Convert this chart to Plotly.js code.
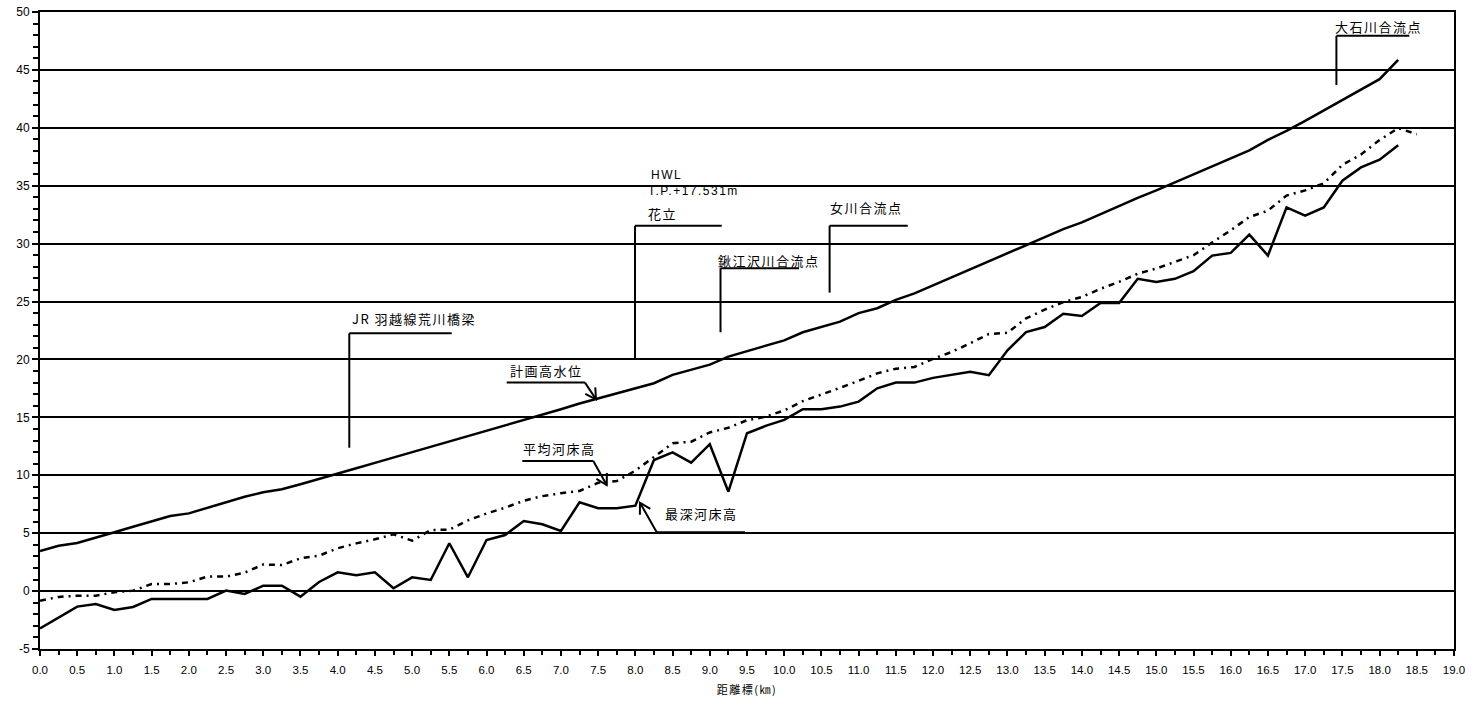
<!DOCTYPE html>
<html>
<head>
<meta charset="utf-8">
<script src="https://cdn.plot.ly/plotly-3.0.1.min.js"></script>
<style>
  html, body { margin: 0; padding: 0; background: #fff; }
  #chart { width: 1474px; height: 706px; }
  .annotation-text { letter-spacing: 1.5px; }
  .xtitle { letter-spacing: 1.5px; }
</style>
</head>
<body>
<div id="chart"></div>
<script>
// distance markers (km)
const distanceKm = [
  0.0, 0.25, 0.5, 0.75, 1.0, 1.25, 1.5, 1.75, 2.0, 2.25, 2.5, 2.75, 3.0, 3.25, 3.5, 3.75,
  4.0, 4.25, 4.5, 4.75, 5.0, 5.25, 5.5, 5.75, 6.0, 6.25, 6.5, 6.75, 7.0, 7.25, 7.5, 7.75,
  8.0, 8.25, 8.5, 8.75, 9.0, 9.25, 9.5, 9.75, 10.0, 10.25, 10.5, 10.75, 11.0, 11.25, 11.5, 11.75,
  12.0, 12.25, 12.5, 12.75, 13.0, 13.25, 13.5, 13.75, 14.0, 14.25, 14.5, 14.75, 15.0, 15.25, 15.5, 15.75,
  16.0, 16.25, 16.5, 16.75, 17.0, 17.25, 17.5, 17.75, 18.0, 18.25, 18.5
];

// 計画高水位 (HWL)
const planHighWater = [
  3.46, 3.92, 4.15, 4.59, 5.08, 5.55, 6.04, 6.48, 6.71, 7.17, 7.66, 8.15, 8.53, 8.79, 9.22, 9.70,
  10.15, 10.60, 11.07, 11.53, 12.00, 12.45, 12.93, 13.40, 13.87, 14.30, 14.80, 15.25, 15.70, 16.20, 16.65, 17.10,
  17.50, 17.95, 18.67, 19.10, 19.55, 20.25, 20.70, 21.15, 21.65, 22.35, 22.80, 23.27, 24.00, 24.42, 25.14, 25.70,
  26.40, 27.10, 27.80, 28.50, 29.20, 29.85, 30.55, 31.25, 31.84, 32.55, 33.25, 33.95, 34.60, 35.30, 36.00, 36.70,
  37.35, 38.05, 38.95, 39.73, 40.60, 41.50, 42.40, 43.35, 44.20, 45.86, null
];

// 平均河床高
const meanBed = [
  -0.84, -0.50, -0.40, -0.40, -0.10, 0.04, 0.61, 0.61, 0.76, 1.25, 1.25, 1.59, 2.30, 2.25, 2.83, 3.06,
  3.70, 4.12, 4.47, 4.90, 4.35, 5.27, 5.30, 6.10, 6.70, 7.20, 7.80, 8.20, 8.45, 8.65, 9.35, 9.50,
  10.40, 11.60, 12.76, 12.90, 13.70, 14.10, 14.75, 15.05, 15.60, 16.40, 16.95, 17.55, 18.15, 18.80, 19.20, 19.35,
  20.05, 20.65, 21.40, 22.20, 22.30, 23.55, 24.30, 24.95, 25.40, 26.10, 26.70, 27.40, 27.85, 28.45, 29.00, 30.10,
  31.15, 32.30, 32.85, 34.15, 34.60, 35.20, 36.80, 37.70, 38.95, 39.97, 39.45
];

// 最深河床高
const deepestBed = [
  -3.22, -2.30, -1.34, -1.11, -1.63, -1.37, -0.68, -0.68, -0.68, -0.68, 0.04, -0.25, 0.47, 0.47, -0.48, 0.79,
  1.62, 1.36, 1.62, 0.24, 1.19, 0.96, 4.13, 1.19, 4.41, 4.84, 6.05, 5.77, 5.19, 7.67, 7.15, 7.15,
  7.38, 11.32, 11.98, 11.09, 12.68, 8.58, 13.63, 14.26, 14.78, 15.70, 15.70, 15.93, 16.36, 17.51, 18.00, 18.00,
  18.41, 18.64, 18.93, 18.64, 20.79, 22.37, 22.80, 23.95, 23.75, 24.87, 24.87, 26.96, 26.68, 26.96, 27.62, 28.97,
  29.20, 30.78, 28.97, 33.13, 32.42, 33.13, 35.43, 36.58, 37.25, 38.50, null
];

const seriesNames = ['計画高水位', '平均河床高', '最深河床高'];

// y tick values / labels (hyphen minus as in the original)
const yTickVals = [-5, 0, 5, 10, 15, 20, 25, 30, 35, 40, 45, 50];
const yTickText = ['-5', '0', '5', '10', '15', '20', '25', '30', '35', '40', '45', '50'];

// ---------- layout helpers (annotation leaders) ----------
const PX_PER_KM = 1414 / 19;
const PX_PER_M = 637 / 55;
const lineStyle = { color: '#000', width: 2 };

function seg(x0, y0, x1, y1) {
  return { type: 'line', xref: 'x', yref: 'y', x0, y0, x1, y1, line: lineStyle, layer: 'above' };
}
function arrowHead(tailX, tailY, tipX, tipY) {
  const dx = (tipX - tailX) * PX_PER_KM;
  const dy = -(tipY - tailY) * PX_PER_M;
  const len = Math.hypot(dx, dy);
  const ux = -dx / len, uy = -dy / len;
  const ang = 30 * Math.PI / 180, L = 12;
  const pts = [ang, -ang].map(a => {
    const rx = ux * Math.cos(a) - uy * Math.sin(a);
    const ry = ux * Math.sin(a) + uy * Math.cos(a);
    return [tipX + rx * L / PX_PER_KM, tipY - ry * L / PX_PER_M];
  });
  return {
    type: 'path', xref: 'x', yref: 'y', layer: 'above',
    path: `M ${pts[0][0]} ${pts[0][1]} L ${tipX} ${tipY} L ${pts[1][0]} ${pts[1][1]}`,
    line: lineStyle
  };
}

const shapes = [
  // JR 羽越線荒川橋梁
  seg(4.156, 12.38, 4.156, 22.26), seg(4.156, 22.26, 5.532, 22.26),
  // 花立
  seg(7.995, 20.1, 7.995, 31.55), seg(7.995, 31.55, 9.16, 31.55),
  // 鍬江沢川合流点
  seg(9.144, 22.35, 9.144, 27.88), seg(9.144, 27.88, 10.2, 27.88),
  // 女川合流点
  seg(10.61, 25.77, 10.61, 31.55), seg(10.61, 31.55, 11.66, 31.55),
  // 大石川合流点
  seg(17.42, 43.7, 17.42, 47.94), seg(17.42, 47.94, 18.4, 47.94),
  // 計画高水位 leader
  seg(6.271, 18.0, 7.323, 18.0), seg(7.323, 18.0, 7.471, 16.56), arrowHead(7.323, 18.0, 7.471, 16.56),
  // 平均河床高 leader
  seg(6.481, 11.23, 7.435, 11.23), seg(7.435, 11.23, 7.615, 9.16), arrowHead(7.435, 11.23, 7.615, 9.16),
  // 最深河床高 leader
  seg(8.287, 5.08, 9.473, 5.08), seg(8.287, 5.08, 8.062, 7.63), arrowHead(8.287, 5.08, 8.062, 7.63)
];

const cjkFont = { family: '"Noto Sans CJK JP", "Noto Sans", sans-serif', size: 13, color: '#000' };
const latinFont = { family: '"Liberation Sans", Arial, sans-serif', size: 12, color: '#000' };
function label(text, x, y, font) {
  return { text, x, y, xref: 'x', yref: 'y', xanchor: 'left', yanchor: 'middle',
           showarrow: false, font: font || cjkFont, borderpad: 0 };
}
const annotations = [
  label('JR 羽越線荒川橋梁', 4.18, 23.56),
  label('HWL', 8.19, 35.93, latinFont),
  label('T.P.+17.531m', 8.16, 34.58, latinFont),
  label('花立', 8.16, 32.62),
  label('鍬江沢川合流点', 9.10, 28.53),
  label('女川合流点', 10.60, 33.08),
  label('大石川合流点', 17.39, 48.74),
  label(seriesNames[0], 6.30, 19.03),
  label(seriesNames[1], 6.48, 12.33),
  label(seriesNames[2], 8.39, 6.72)
];

const traces = [
  { x: distanceKm, y: planHighWater, name: seriesNames[0], type: 'scatter', mode: 'lines',
    line: { color: '#000', width: 2.5 }, connectgaps: false },
  { x: distanceKm, y: meanBed, name: seriesNames[1], type: 'scatter', mode: 'lines',
    line: { color: '#000', width: 2.5, dash: '6px,5px,2px,5px' } },
  { x: distanceKm, y: deepestBed, name: seriesNames[2], type: 'scatter', mode: 'lines',
    line: { color: '#000', width: 2.5 }, connectgaps: false }
];

const tickFont = { family: '"Liberation Sans", Arial, sans-serif', size: 11.5, color: '#000' };

const layout = {
  width: 1474, height: 706,
  margin: { l: 40, r: 20, t: 12, b: 57 },
  paper_bgcolor: '#fff', plot_bgcolor: '#fff',
  showlegend: false,
  xaxis: {
    range: [0, 19], tick0: 0, dtick: 0.5, tickformat: '.1f',
    ticks: 'outside', ticklen: 5, tickwidth: 2, tickcolor: '#000',
    ticklabelstandoff: 4,
    showline: true, linecolor: '#000', linewidth: 2, mirror: true,
    showgrid: false, zeroline: false, tickfont: tickFont,
    minor: { dtick: 0.25, ticks: 'outside', ticklen: 4, tickwidth: 2, tickcolor: '#000', showgrid: false },
    title: { text: '距離標(㎞)', font: { family: '"Noto Sans CJK JP", sans-serif', size: 11, color: '#000' }, standoff: 12 },
    fixedrange: true
  },
  yaxis: {
    range: [-5, 50], tickmode: 'array', tickvals: yTickVals, ticktext: yTickText,
    ticks: 'outside', ticklen: 6, tickwidth: 2, tickcolor: '#000',
    showline: true, linecolor: '#000', linewidth: 2, mirror: true,
    showgrid: true, gridcolor: '#000', gridwidth: 2,
    zeroline: true, zerolinecolor: '#000', zerolinewidth: 2,
    tickfont: { family: '"Liberation Sans", Arial, sans-serif', size: 12, color: '#000' },
    minor: { dtick: 1, ticks: 'outside', ticklen: 5, tickwidth: 2, tickcolor: '#000', showgrid: false },
    fixedrange: true
  },
  shapes, annotations
};

Plotly.newPlot('chart', traces, layout, { staticPlot: true, displayModeBar: false });
</script>
</body>
</html>
